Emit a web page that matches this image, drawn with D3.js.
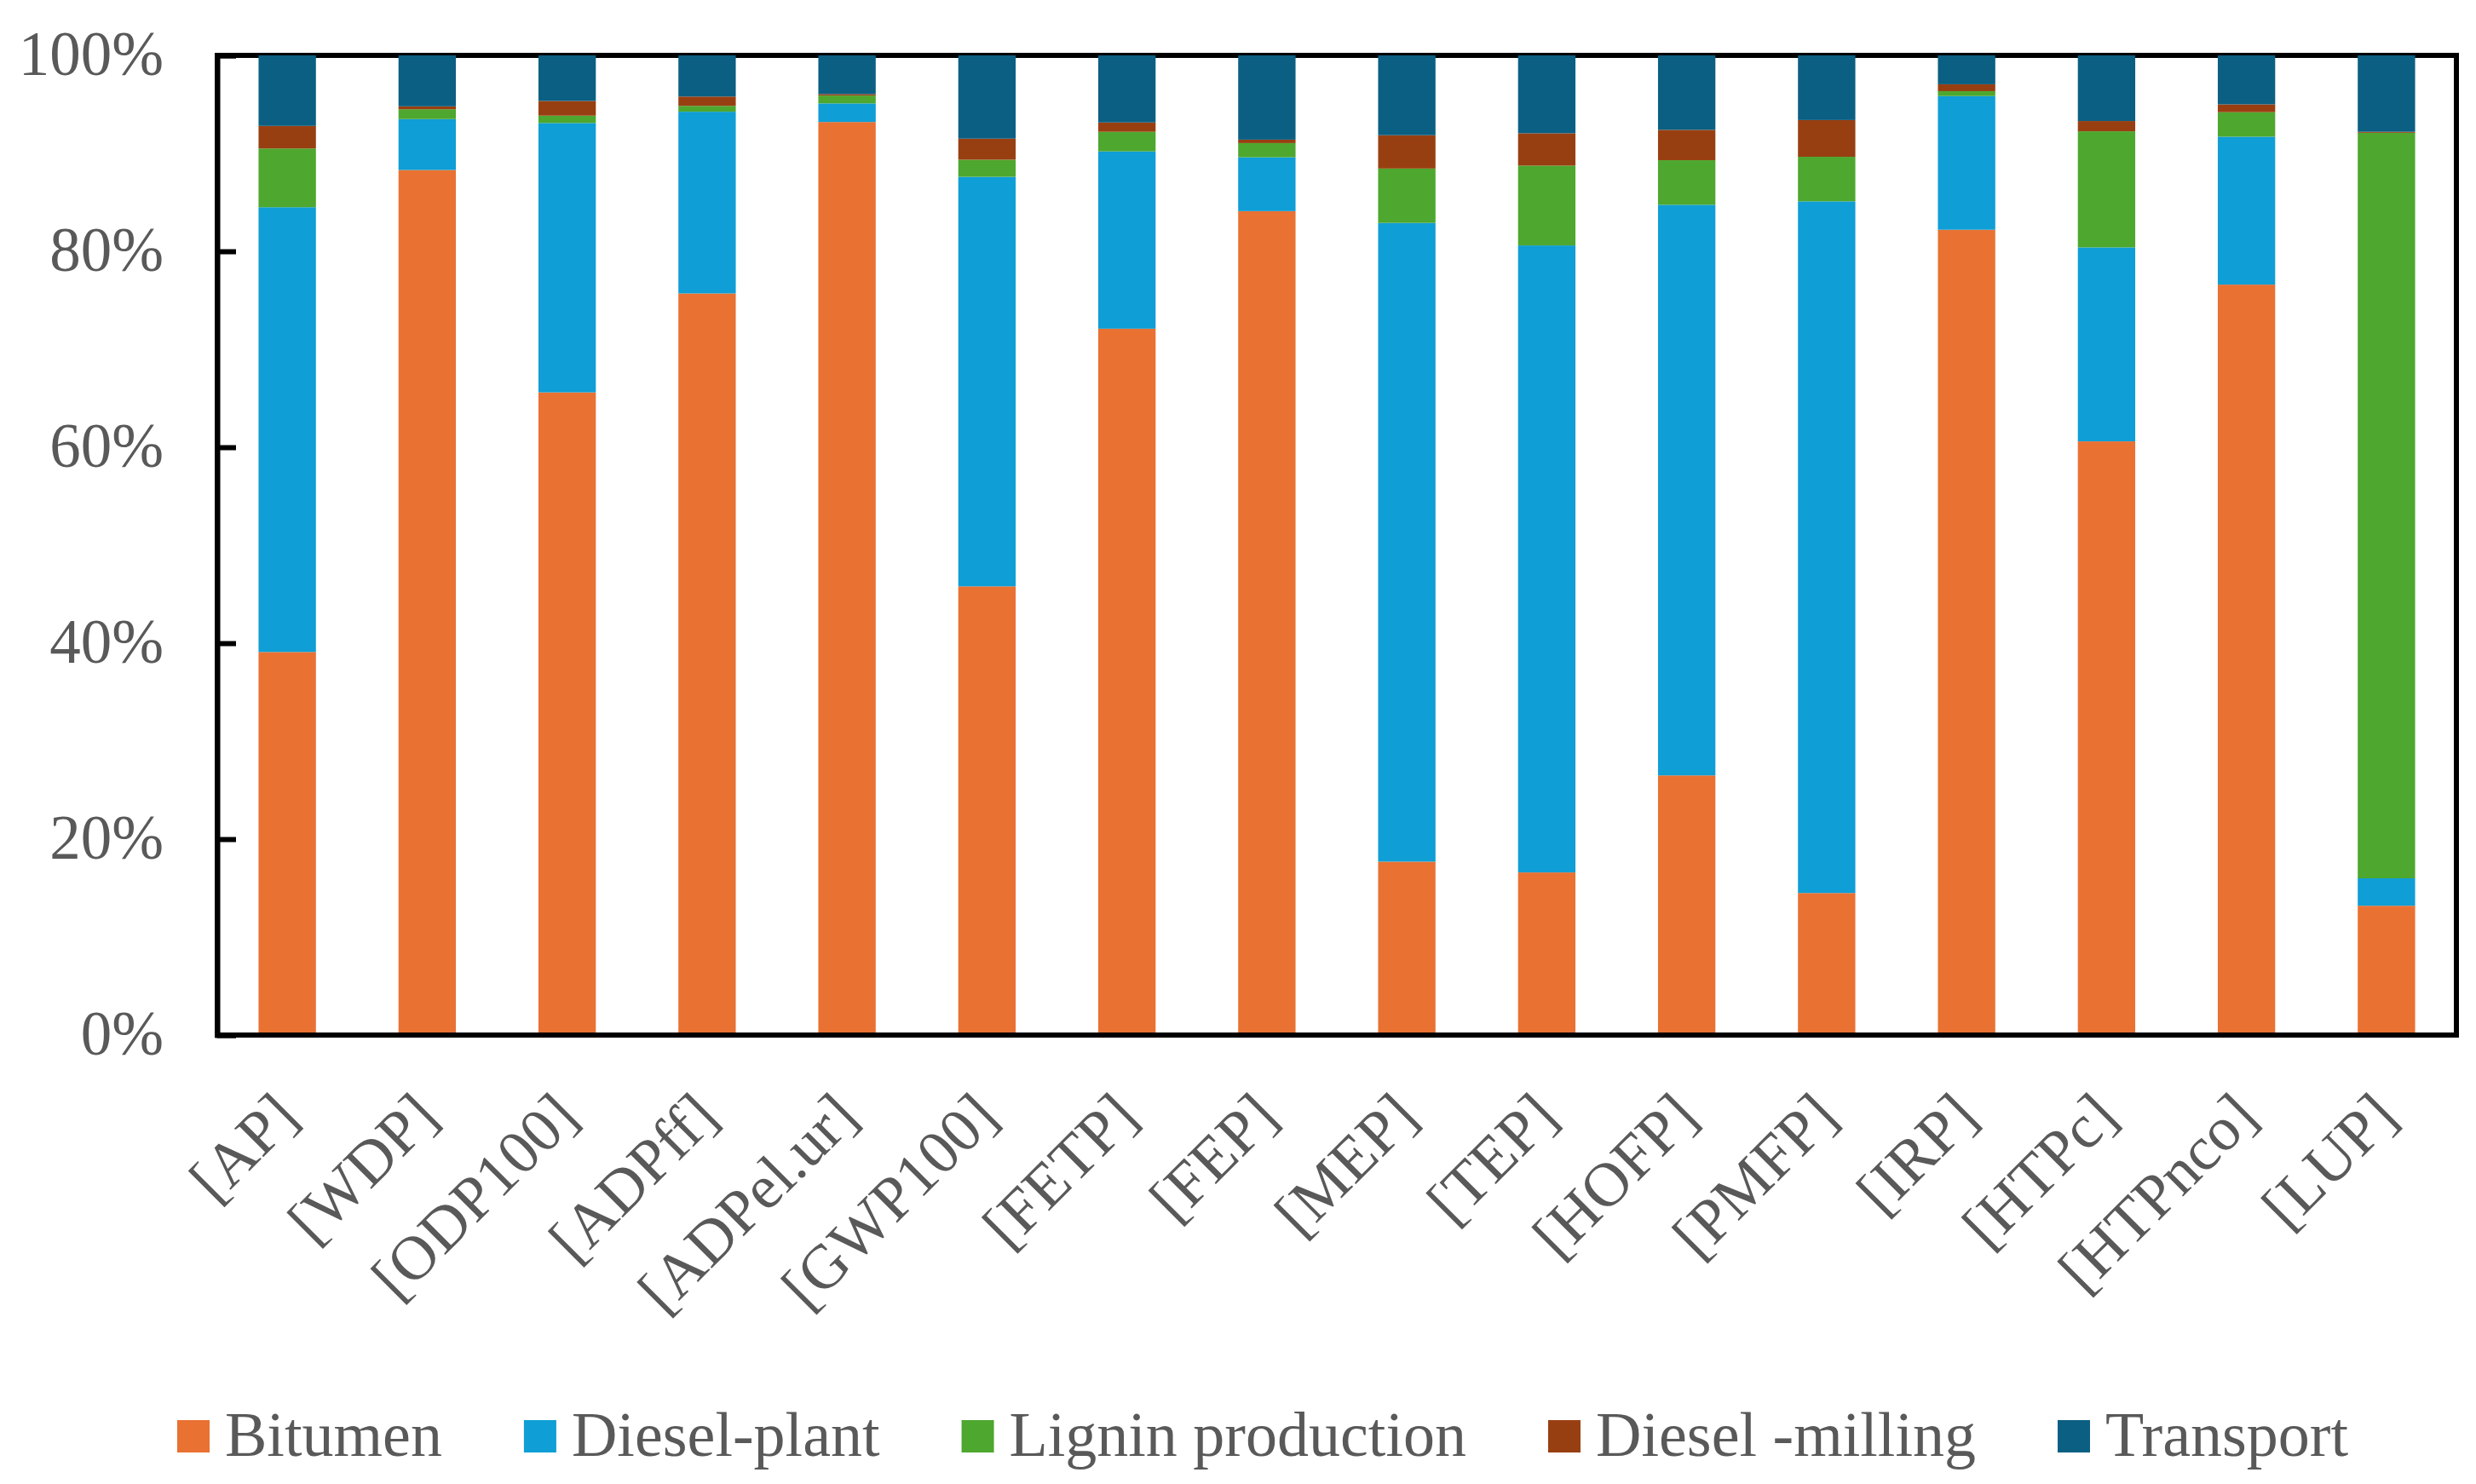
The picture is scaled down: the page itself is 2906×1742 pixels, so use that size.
<!DOCTYPE html>
<html>
<head>
<meta charset="utf-8">
<script src="https://cdn.jsdelivr.net/npm/d3@7"></script>
<style>
  body { margin: 0; background: #fff; }
  text { font-family: "Liberation Serif", "Times New Roman", serif; fill: #595959; }
</style>
</head>
<body>
<div id="chart"></div>
<script>
// DATA (percent share of each impact category)
const categories = ['[AP]', '[WDP]', '[ODP100]', '[ADPff]', '[ADPel.ur]', '[GWP100]', '[FETP]', '[FEP]',
  '[MEP]', '[TEP]', '[HOFP]', '[PMFP]', '[IRP]', '[HTPc]', '[HTPnco]', '[LUP]'];
const bitumen       = [39.1, 88.3, 65.6, 75.7, 93.2, 45.8, 72.1, 84.1, 17.7, 16.6, 26.5, 14.5, 82.2, 60.6, 76.6, 13.2];
const dieselPlant   = [45.4, 5.2, 27.5, 18.55, 1.9, 41.8, 18.1, 5.5, 65.2, 64.0, 58.25, 70.6, 13.65, 19.8, 15.1, 2.8];
const lignin        = [6.0, 1.0, 0.75, 0.6, 0.8, 1.75, 2.0, 1.45, 5.55, 8.15, 4.55, 4.55, 0.5, 11.85, 2.5, 76.1];
const dieselMilling = [2.3, 0.3, 1.5, 0.95, 0.15, 2.15, 0.95, 0.35, 3.4, 3.3, 3.1, 3.75, 0.7, 1.05, 0.8, 0.1];
const transport     = [7.2, 5.2, 4.65, 4.2, 3.95, 8.5, 6.85, 8.6, 8.15, 7.95, 7.6, 6.6, 2.95, 6.7, 5.0, 7.8];
const seriesNames = ['Bitumen', 'Diesel-plant', 'Lignin production', 'Diesel -milling', 'Transport'];
const yTicks = [0, 20, 40, 60, 80, 100];

const colors = ['#E97132', '#0F9ED5', '#4EA72E', '#983F12', '#0B5F82'];

const width = 2906;
const height = 1742;
const plot = { left: 255, right: 2883, top: 65, bottom: 1215 };

const svg = d3.select('#chart')
  .append('svg')
  .attr('width', width)
  .attr('height', height);

// build rows for the stack
const allSeries = [bitumen, dieselPlant, lignin, dieselMilling, transport];
const rows = categories.map((c, i) => {
  const row = { cat: c };
  seriesNames.forEach((s, j) => { row[s] = allSeries[j][i]; });
  return row;
});
const stacked = d3.stack().keys(seriesNames)(rows);

const xScale = d3.scaleBand()
  .domain(categories)
  .range([plot.left, plot.right])
  .paddingInner(0.59)
  .paddingOuter(0.295);

const yScale = d3.scaleLinear()
  .domain([0, 100])
  .range([plot.bottom, plot.top]);

// FRAME
svg.append('rect')
  .attr('x', plot.left)
  .attr('y', plot.top)
  .attr('width', plot.right - plot.left)
  .attr('height', plot.bottom - plot.top)
  .attr('fill', 'none')
  .attr('stroke', '#000')
  .attr('stroke-width', 6);

// BARS
svg.append('g')
  .selectAll('g')
  .data(stacked)
  .enter()
  .append('g')
  .attr('fill', (d, i) => colors[i])
  .selectAll('rect')
  .data(d => d)
  .enter()
  .append('rect')
  .attr('x', d => xScale(d.data.cat))
  .attr('y', d => yScale(d[1]))
  .attr('width', xScale.bandwidth())
  .attr('height', d => yScale(d[0]) - yScale(d[1]));

// Y AXIS (ticks inside)
const yAxis = svg.append('g')
  .attr('transform', 'translate(' + plot.left + ',0)')
  .call(d3.axisRight(yScale).tickValues(yTicks).tickSize(22).tickFormat(''));
yAxis.select('.domain').attr('stroke', '#000').attr('stroke-width', 6);
yAxis.selectAll('.tick line').attr('stroke', '#000').attr('stroke-width', 6);

svg.append('g')
  .selectAll('text')
  .data(yTicks)
  .enter()
  .append('text')
  .attr('x', 192)
  .attr('y', d => yScale(d))
  .attr('dy', '0.32em')
  .attr('text-anchor', 'end')
  .style('font-size', '73px')
  .text(d => d + '%');

// X AXIS
svg.append('line')
  .attr('x1', plot.left - 3)
  .attr('x2', plot.right + 3)
  .attr('y1', plot.bottom)
  .attr('y2', plot.bottom)
  .attr('stroke', '#000')
  .attr('stroke-width', 6);

svg.append('g')
  .selectAll('text')
  .data(categories)
  .enter()
  .append('text')
  .attr('transform', d => {
    const x = xScale(d) + xScale.bandwidth() / 2 + 16;
    return 'translate(' + x + ',' + (plot.bottom + 99) + ') rotate(-45)';
  })
  .attr('text-anchor', 'end')
  .style('font-size', '73px')
  .text(d => d);

// LEGEND
const legend = svg.append('g').attr('transform', 'translate(208,0)');
let lx = 0;
seriesNames.forEach((name, i) => {
  legend.append('rect')
    .attr('x', lx)
    .attr('y', 1667)
    .attr('width', 38)
    .attr('height', 38)
    .attr('fill', colors[i]);
  const t = legend.append('text')
    .attr('x', lx + 56)
    .attr('y', 1709)
    .style('font-size', '74px')
    .text(name);
  lx += 56 + t.node().getComputedTextLength() + 96;
});
</script>
</body>
</html>
